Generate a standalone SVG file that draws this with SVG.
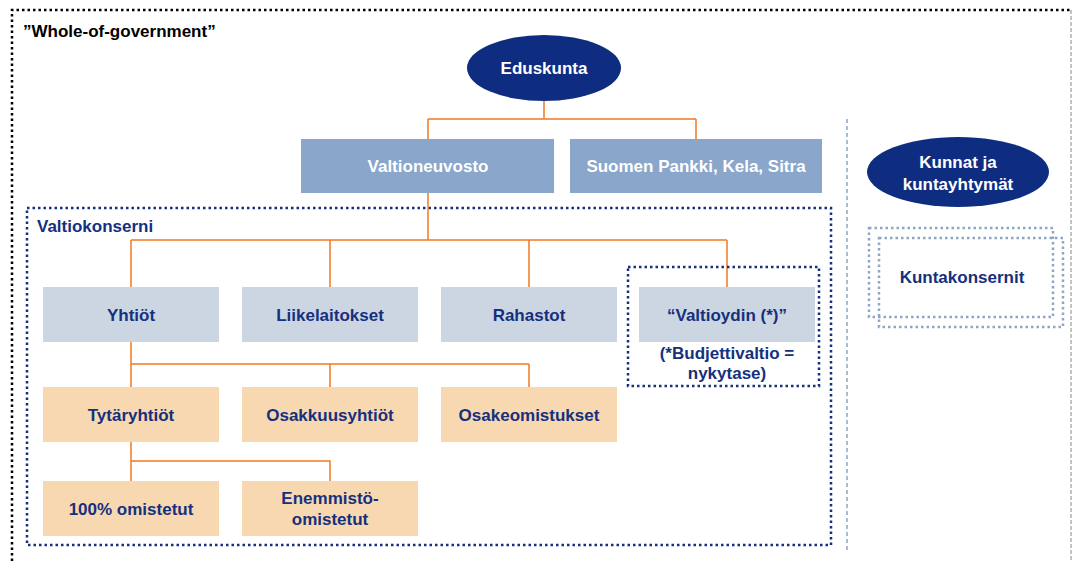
<svg xmlns="http://www.w3.org/2000/svg" width="1075" height="561" viewBox="0 0 1075 561">
<style>
text{font-family:"Liberation Sans",Arial,sans-serif;font-weight:bold;font-size:17px;text-anchor:middle}
.w{fill:#ffffff}
.n{fill:#14307e}
.top{fill:#8aa6cb}
.grey{fill:#ccd6e2}
.peach{fill:#f8d8b0}
.con{fill:none;stroke:#f07a22;stroke-width:1.5}
.navydot{fill:none;stroke:#14307e;stroke-width:2.5;stroke-dasharray:2.5 3}
.kdot{fill:none;stroke:#8fa5c8;stroke-width:2.5;stroke-dasharray:2.5 3}
</style>
<rect width="1075" height="561" fill="#ffffff"/>
<g id="outer">
<path d="M12,561 V10 H1071" fill="none" stroke="#000" stroke-width="2.5" stroke-dasharray="2.5 3"/>
<path d="M1071,10 V561" fill="none" stroke="#888" stroke-width="1" stroke-dasharray="4 2"/>
<text x="23" y="37" style="text-anchor:start;fill:#000">”Whole-of-government”</text>
</g>
<g id="divider">
<path d="M847,119 V551" fill="none" stroke="#8fa5c8" stroke-width="1.5" stroke-dasharray="4 3"/>
</g>
<g id="valtiokonserni">
<rect x="27" y="208" width="804" height="337" class="navydot"/>
<text x="37" y="232" class="n" style="text-anchor:start">Valtiokonserni</text>
</g>
<g id="connectors">
<path class="con" d="M544,101 V119 M428,119 H696 M428,119 V139 M696,119 V139"/>
<path class="con" d="M428,193 V240 M131,240 H727 M131,240 V287 M330,240 V287 M529,240 V287 M727,240 V287"/>
<path class="con" d="M131,342 V387 M131,364 H529 M330,364 V387 M529,364 V387"/>
<path class="con" d="M131,442 V481 M131,461 H330 V481"/>
</g>
<g id="eduskunta">
<ellipse cx="544" cy="68" rx="77" ry="33" fill="#0f2d80"/>
<text x="544" y="74" class="w">Eduskunta</text>
</g>
<g id="valtioneuvosto">
<rect x="301" y="139" width="253" height="54" class="top"/>
<text x="428" y="172" class="w">Valtioneuvosto</text>
</g>
<g id="suomenpankki">
<rect x="570" y="139" width="252" height="54" class="top"/>
<text x="696" y="172" class="w">Suomen Pankki, Kela, Sitra</text>
</g>
<g id="yhtiot">
<rect x="43" y="287" width="176" height="55" class="grey"/>
<text x="131" y="321" class="n">Yhtiöt</text>
</g>
<g id="liikelaitokset">
<rect x="242" y="287" width="176" height="55" class="grey"/>
<text x="330" y="321" class="n">Liikelaitokset</text>
</g>
<g id="rahastot">
<rect x="441" y="287" width="176" height="55" class="grey"/>
<text x="529" y="321" class="n">Rahastot</text>
</g>
<g id="valtioydin">
<rect x="628" y="267" width="191" height="119" class="navydot"/>
<rect x="639" y="287" width="176" height="55" class="grey"/>
<text x="727" y="321" class="n">“Valtioydin (*)”</text>
<text x="727" y="359" class="n">(*Budjettivaltio =</text>
<text x="727" y="379" class="n">nykytase)</text>
</g>
<g id="tytaryhtiot">
<rect x="43" y="387" width="176" height="55" class="peach"/>
<text x="131" y="421" class="n">Tytäryhtiöt</text>
</g>
<g id="osakkuusyhtiot">
<rect x="242" y="387" width="176" height="55" class="peach"/>
<text x="330" y="421" class="n">Osakkuusyhtiöt</text>
</g>
<g id="osakeomistukset">
<rect x="441" y="387" width="176" height="55" class="peach"/>
<text x="529" y="421" class="n">Osakeomistukset</text>
</g>
<g id="omistetut100">
<rect x="43" y="481" width="176" height="55" class="peach"/>
<text x="131" y="515" class="n">100% omistetut</text>
</g>
<g id="enemmisto">
<rect x="242" y="481" width="176" height="55" class="peach"/>
<text x="330" y="504" class="n">Enemmistö-</text>
<text x="330" y="525" class="n">omistetut</text>
</g>
<g id="kunnat">
<ellipse cx="958" cy="172" rx="91" ry="35" fill="#0f2d80"/>
<text x="958" y="168" class="w">Kunnat ja</text>
<text x="958" y="190" class="w">kuntayhtymät</text>
</g>
<g id="kuntakonsernit">
<rect x="869" y="228" width="184" height="89" class="kdot"/>
<rect x="879" y="238" width="184" height="89" class="kdot"/>
<text x="962" y="283" class="n">Kuntakonsernit</text>
</g>
</svg>
